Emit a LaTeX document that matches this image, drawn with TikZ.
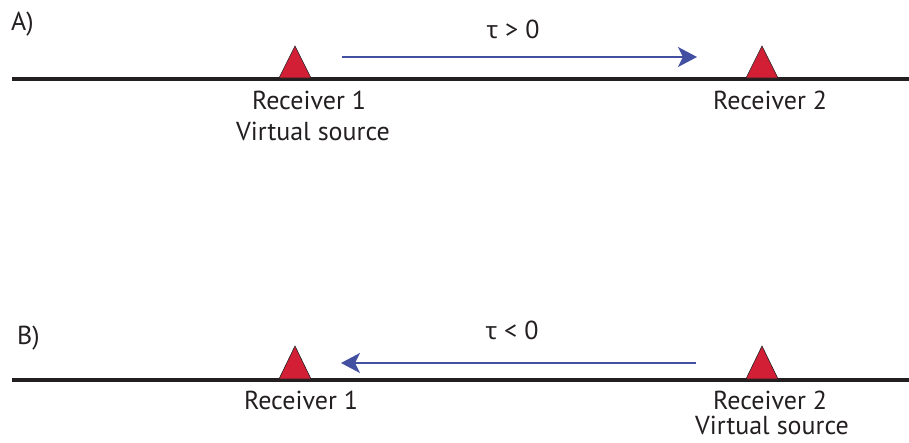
\documentclass[tikz,border=0pt]{standalone}
\usepackage{fontspec}
\setmainfont{PT Sans}
\newfontfamily\greekfont{Noto Sans}
\usetikzlibrary{arrows.meta}
\definecolor{arrowblue}{HTML}{4350A2}
\definecolor{recred}{HTML}{D21F35}
\definecolor{ground}{HTML}{231F20}
\tikzset{
  groundline/.style={draw=ground, line width=3.5pt},
  receiver/.style={fill=recred, draw=ground, line width=0.6pt, line join=miter},
  wave/.style={draw=arrowblue, line width=2pt, -{Stealth[length=19pt,width=20pt,inset=5pt]}},
  lbl/.style={inner sep=0pt, font=\fontsize{26}{30}\selectfont, text=ground, align=center},
}
\begin{document}
\begin{tikzpicture}[x=1pt,y=-1pt]
\useasboundingbox (0,0) rectangle (909,442);
% panel A
\node[lbl, anchor=west] (la) at (11,24) {A)};
\draw[groundline] (12,79) -- (909,79);
\draw[receiver] (279,78) -- (295,46) -- (311,78) -- cycle;
\draw[receiver] (746,78) -- (762,46) -- (778,78) -- cycle;
\coordinate (a1) at (342,57);
\coordinate (a2) at (697,57);
\draw[wave] (a1) -- (a2);
\node[lbl] (ta) at (513,29) {{\greekfont\fontsize{24}{28}\selectfont τ} > 0};
\node[lbl] (ra1) at (309,100) {Receiver 1};
\node[lbl] (va1) at (313,131) {Virtual source};
\node[lbl] (ra2) at (770,100) {Receiver 2};
% panel B
\node[lbl, anchor=west] (lb) at (17,338) {B)};
\draw[groundline] (12,380) -- (909,380);
\draw[receiver] (279,379) -- (295,346) -- (311,379) -- cycle;
\draw[receiver] (746,379) -- (762,346) -- (778,379) -- cycle;
\coordinate (b1) at (696,363);
\coordinate (b2) at (341,363);
\draw[wave] (b1) -- (b2);
\node[lbl] (tb) at (512,330) {{\greekfont\fontsize{24}{28}\selectfont τ} < 0};
\node[lbl] (rb1) at (301,400) {Receiver 1};
\node[lbl] (rb2) at (770,400) {Receiver 2};
\node[lbl] (vb2) at (772,425) {Virtual source};
\end{tikzpicture}
\end{document}
